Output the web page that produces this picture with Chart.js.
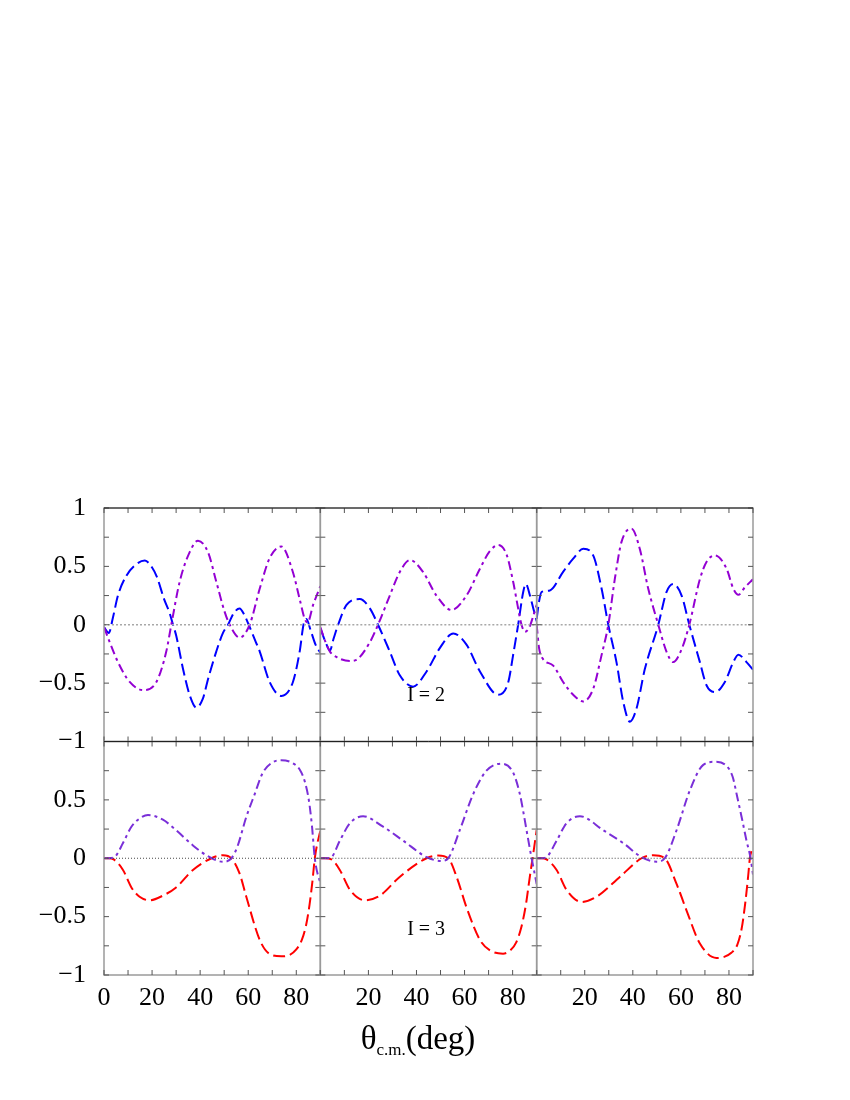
<!DOCTYPE html>
<html>
<head>
<meta charset="utf-8">
<script src="https://cdn.jsdelivr.net/npm/chart.js@4.4.1/dist/chart.umd.min.js"></script>
<style>
  html, body { margin: 0; padding: 0; background: #ffffff; }
  #wrap { position: relative; width: 850px; height: 1100px; }
  #c { position: absolute; left: 0; top: 0; }
  #xtitle { position: absolute; left: 0; width: 836px; top: 1020px; text-align: center;
            font-family: "Liberation Serif", "DejaVu Serif", serif; font-size: 33px; color: #000; }
  #xtitle sub { font-size: 17px; vertical-align: -6px; }
</style>
</head>
<body>
<div id="wrap">
  <canvas id="c" width="850" height="1100"></canvas>
  <div id="xtitle">θ<sub>c.m.</sub>(deg)</div>
</div>
<script>
// ---- data (theta in deg, value) ----
const top1Blue = [[0,-0.02],[2,-0.07],[3.7,0.06],[5.8,0.25],[9.3,0.42],[13.5,0.52],[17,0.55],[20,0.49],[22,0.41],[25,0.22],[27.3,0.1],[28.7,0],[30,-0.09],[33,-0.39],[35.6,-0.6],[38.4,-0.71],[41,-0.64],[43.5,-0.45],[46.7,-0.23],[49.5,-0.07],[51.6,0],[54,0.1],[56.4,0.14],[58.5,0.08],[60.2,0],[63,-0.14],[64.8,-0.23],[68.9,-0.49],[73.8,-0.61],[78.6,-0.49],[81.4,-0.23],[83,0],[84.2,0.05],[86,-0.05],[88,-0.17],[90,-0.24]];
const top1Purple = [[0,-0.02],[2.4,-0.15],[5.8,-0.32],[10.7,-0.49],[16.2,-0.56],[21.8,-0.49],[25.9,-0.23],[28,0],[31.5,0.37],[35.6,0.62],[39.1,0.72],[43.3,0.62],[46.7,0.37],[50.2,0.11],[52.3,0],[56.4,-0.11],[60.6,0],[64.8,0.31],[68.9,0.57],[73.8,0.67],[78.6,0.45],[81.4,0.22],[83.5,0.05],[84.7,0.02],[87,0.17],[90,0.33]];
const top2Blue = [[0,-0.03],[2,-0.14],[4,-0.22],[5.5,-0.12],[7.4,0],[10.9,0.17],[16.4,0.22],[20.6,0.14],[24,0],[28.9,-0.23],[33,-0.43],[38.6,-0.53],[44.2,-0.4],[49.7,-0.2],[55.3,-0.074],[60.8,-0.17],[66.4,-0.4],[74,-0.6],[78.2,-0.49],[80.2,-0.26],[82.3,0],[84.4,0.28],[85.5,0.35],[87.2,0.25],[88.6,0.14],[90,0.03]];
const top2Purple = [[0,-0.02],[2,-0.14],[4,-0.23],[7,-0.28],[12.3,-0.31],[15,-0.3],[20.6,-0.15],[24,0],[28.9,0.25],[33,0.45],[37.3,0.554],[42.8,0.45],[48.3,0.25],[54.6,0.126],[60.8,0.25],[66.4,0.48],[70.5,0.63],[74,0.683],[77.5,0.6],[80.2,0.37],[82.3,0.14],[83.7,0],[85.1,-0.06],[87,-0.02],[88.5,0.07],[90,0.17]];
const top3Blue = [[0,0.05],[1,0.2],[2,0.28],[5.5,0.294],[11,0.453],[15.2,0.566],[19.4,0.651],[23.5,0.594],[27,0.31],[29.8,0],[33.2,-0.32],[36,-0.66],[38.8,-0.83],[41.5,-0.72],[45,-0.38],[50.6,0],[54,0.28],[56.8,0.35],[60.3,0.25],[63.5,0],[67.9,-0.32],[70.7,-0.52],[74.2,-0.577],[78.3,-0.49],[81.8,-0.32],[83.9,-0.257],[87.3,-0.32],[90,-0.385]];
const top3Purple = [[0,0],[1,-0.2],[2.5,-0.29],[6.9,-0.35],[11,-0.49],[15.2,-0.6],[19.4,-0.657],[23.5,-0.55],[27,-0.26],[29.8,0],[32.5,0.39],[35.3,0.71],[39.5,0.823],[42.9,0.65],[46.4,0.31],[50.6,0],[54,-0.23],[56.8,-0.32],[60.3,-0.21],[63.5,0],[67.9,0.39],[70.7,0.54],[74.2,0.594],[79,0.48],[81.8,0.31],[83.9,0.257],[86.6,0.32],[90,0.39]];
const bot1Red = [[0,0],[2,0],[4,-0.01],[7.9,-0.1],[11.4,-0.25],[14.8,-0.33],[19,-0.36],[24.5,-0.32],[30,-0.25],[37,-0.1],[44.7,0],[49.5,0.026],[53,0],[56.4,-0.13],[59.2,-0.33],[64.8,-0.7],[68.9,-0.82],[73.8,-0.84],[77,-0.83],[80,-0.78],[82.3,-0.7],[84,-0.58],[85.5,-0.4],[86.7,-0.2],[87.7,0],[89.7,0.21],[90,0.23]];
const bot1Purple = [[0,0],[2,0],[4.4,0.01],[7.9,0.13],[11.4,0.27],[14.8,0.34],[18.3,0.37],[24.5,0.33],[30,0.24],[37,0.11],[42.6,0.026],[49.5,-0.03],[53,0],[55.5,0.1],[59.2,0.354],[62.7,0.55],[66,0.73],[70,0.82],[73.8,0.84],[78,0.82],[81.4,0.76],[83.5,0.66],[85.2,0.5],[86.5,0.28],[87.7,0],[89.7,-0.19],[90,-0.2]];
const bot2Red = [[0,0],[2,0],[4.6,-0.01],[8.1,-0.1],[12.3,-0.27],[18.5,-0.36],[24.8,-0.32],[33,-0.16],[44.2,0],[49,0.023],[53.2,0],[56.7,-0.16],[60.8,-0.42],[66.4,-0.7],[70.6,-0.79],[76,-0.817],[79,-0.79],[81.5,-0.72],[83.5,-0.6],[85.5,-0.4],[87,-0.18],[88.3,0],[90,0.24]];
const bot2Purple = [[0,0],[2,0],[4.6,0.01],[8.1,0.15],[12.3,0.3],[17.8,0.36],[26.1,0.27],[34.5,0.15],[44.2,0.01],[50.4,-0.023],[53.2,0],[58,0.24],[63.6,0.55],[69.1,0.75],[75.4,0.81],[80.3,0.73],[83,0.55],[84.6,0.38],[86.3,0.18],[87.9,0],[90,-0.22]];
const bot3Red = [[0,0],[2,0],[4.1,-0.01],[8.3,-0.1],[12.4,-0.27],[18.7,-0.374],[24.9,-0.33],[34.6,-0.16],[43.6,0],[48.5,0.026],[53.3,0],[58.2,-0.22],[62.4,-0.45],[67.9,-0.73],[74.8,-0.854],[78,-0.845],[81,-0.81],[83.5,-0.74],[85.3,-0.6],[86.8,-0.38],[88,-0.15],[88.7,0],[90,0.1]];
const bot3Purple = [[0,0],[2,0],[4.1,0.01],[8.3,0.15],[12.4,0.3],[18,0.36],[27.7,0.24],[36,0.13],[43.6,0.01],[49.9,-0.03],[53.3,0],[58.2,0.24],[63.7,0.58],[69.3,0.8],[74.2,0.826],[78.5,0.8],[81.5,0.7],[83.5,0.52],[85.5,0.33],[87.3,0.15],[89,0],[90,-0.14]];
const zeroLine = [[0,0],[90,0]];

// ---- tick labels ----
const xTickLabelsFirst = [0, 20, 40, 60, 80];
const xTickLabelsOther = [20, 40, 60, 80];
const yTickLabelsTop = [1, 0.5, 0, -0.5, -1];
const yTickLabelsBottom = [0.5, 0, -0.5, -1];
const panelLabels = [{text: 'I = 2', col: 'x2', row: 'yTop', x: 44, y: -0.61},
                     {text: 'I = 3', col: 'x2', row: 'yBot', x: 44, y: -0.61}];

const BLUE = '#0000ff', PURPLE = '#9400d3', PURPLE2 = '#7a2fd8', RED = '#ff0000';
const FONT = '"Liberation Serif", "DejaVu Serif", serif';

function pts(a) { return a.map(p => ({x: p[0], y: p[1]})); }
function fmt(v) { return (v < 0 ? '\u2212' : '') + String(Math.abs(v)); }
function near(v, list) { return list.some(t => Math.abs(t - v) < 1e-6); }

function ds(data, color, dash, xid, yid, width) {
  return { data: pts(data), borderColor: color, borderWidth: width || 2, borderDash: dash,
           showLine: true, pointRadius: 0, fill: false, cubicInterpolationMode: 'monotone',
           xAxisID: xid, yAxisID: yid };
}

const datasets = [];
const cols = ['x1', 'x2', 'x3'];
const topSets = [[top1Blue, top1Purple], [top2Blue, top2Purple], [top3Blue, top3Purple]];
const botSets = [[bot1Red, bot1Purple], [bot2Red, bot2Purple], [bot3Red, bot3Purple]];
cols.forEach((xid, i) => {
  datasets.push(ds(zeroLine, '#a8a8a8', [2, 2], xid, 'yTop', 1.5));
  datasets.push(ds(zeroLine, '#444444', [1, 2], xid, 'yBot', 1));
  datasets.push(ds(topSets[i][1], PURPLE, [9, 4, 3, 4], xid, 'yTop'));
  datasets.push(ds(topSets[i][0], BLUE, [12, 5], xid, 'yTop'));
  datasets.push(ds(botSets[i][1], PURPLE2, [9, 4, 3, 4], xid, 'yBot'));
  datasets.push(ds(botSets[i][0], RED, [12, 5], xid, 'yBot'));
});

function xAxis(labels) {
  return { type: 'linear', position: 'bottom', stack: 'cols', stackWeight: 1, min: 0, max: 90,
    grid: { display: false, drawTicks: false }, border: { display: false },
    afterFit: s => { s.height = 40; },
    ticks: { stepSize: 10, autoSkip: false, maxRotation: 0, padding: 8, color: '#000',
             font: { family: FONT, size: 26 },
             callback: v => near(v, labels) ? String(v) : '' } };
}
function yAxis(labels, w) {
  return { type: 'linear', position: 'left', stack: 'rows', stackWeight: 1, weight: w, min: -1, max: 1,
    grid: { display: false, drawTicks: false }, border: { display: false },
    afterFit: s => { s.width = 104; },
    ticks: { stepSize: 0.25, autoSkip: false, padding: 18, color: '#000',
             font: { family: FONT, size: 26 },
             callback: v => near(v, labels) ? fmt(v) : '' } };
}

const framePlugin = {
  id: 'frames',
  afterDatasetsDraw(chart) {
    const ctx = chart.ctx;
    const S = chart.scales;
    ctx.save();
    ['yTop', 'yBot'].forEach(yid => {
      const ys = S[yid];
      cols.forEach(xid => {
        const xs = S[xid];
        ctx.strokeStyle = '#9a9a9a';
        ctx.lineWidth = 1.5;
        ctx.strokeRect(xs.left, ys.top, xs.right - xs.left, ys.bottom - ys.top);
        ctx.strokeStyle = '#555555';
        ctx.lineWidth = 1;
        ctx.beginPath();
        xs.ticks.forEach(t => {
          const px = xs.getPixelForValue(t.value);
          ctx.moveTo(px, ys.top); ctx.lineTo(px, ys.top + 5);
          ctx.moveTo(px, ys.bottom); ctx.lineTo(px, ys.bottom - 5);
        });
        ys.ticks.forEach(t => {
          const py = ys.getPixelForValue(t.value);
          ctx.moveTo(xs.left, py); ctx.lineTo(xs.left + 5, py);
          ctx.moveTo(xs.right, py); ctx.lineTo(xs.right - 5, py);
        });
        ctx.stroke();
      });
    });
    // dark horizontal lines: top edge and row divider
    ctx.strokeStyle = '#222222';
    ctx.lineWidth = 1;
    ctx.beginPath();
    ctx.moveTo(S.x1.left, S.yTop.top); ctx.lineTo(S.x3.right, S.yTop.top);
    ctx.moveTo(S.x1.left, S.yTop.bottom); ctx.lineTo(S.x3.right, S.yTop.bottom);
    ctx.stroke();
    // panel labels
    ctx.fillStyle = '#000';
    ctx.font = '20px ' + FONT;
    ctx.textAlign = 'center';
    ctx.textBaseline = 'middle';
    panelLabels.forEach(l => {
      ctx.fillText(l.text, S[l.col].getPixelForValue(l.x), S[l.row].getPixelForValue(l.y));
    });
    ctx.restore();
  }
};

new Chart(document.getElementById('c'), {
  type: 'scatter',
  data: { datasets },
  options: {
    responsive: false, animation: false, devicePixelRatio: 1,
    layout: { padding: { left: 0, right: 97, top: 508, bottom: 85 } },
    plugins: { legend: { display: false }, tooltip: { enabled: false }, title: { display: false } },
    scales: {
      x1: xAxis(xTickLabelsFirst),
      x2: xAxis(xTickLabelsOther),
      x3: xAxis(xTickLabelsOther),
      yTop: yAxis(yTickLabelsTop, 1),
      yBot: yAxis(yTickLabelsBottom, 0)
    }
  },
  plugins: [framePlugin]
});
</script>
</body>
</html>
